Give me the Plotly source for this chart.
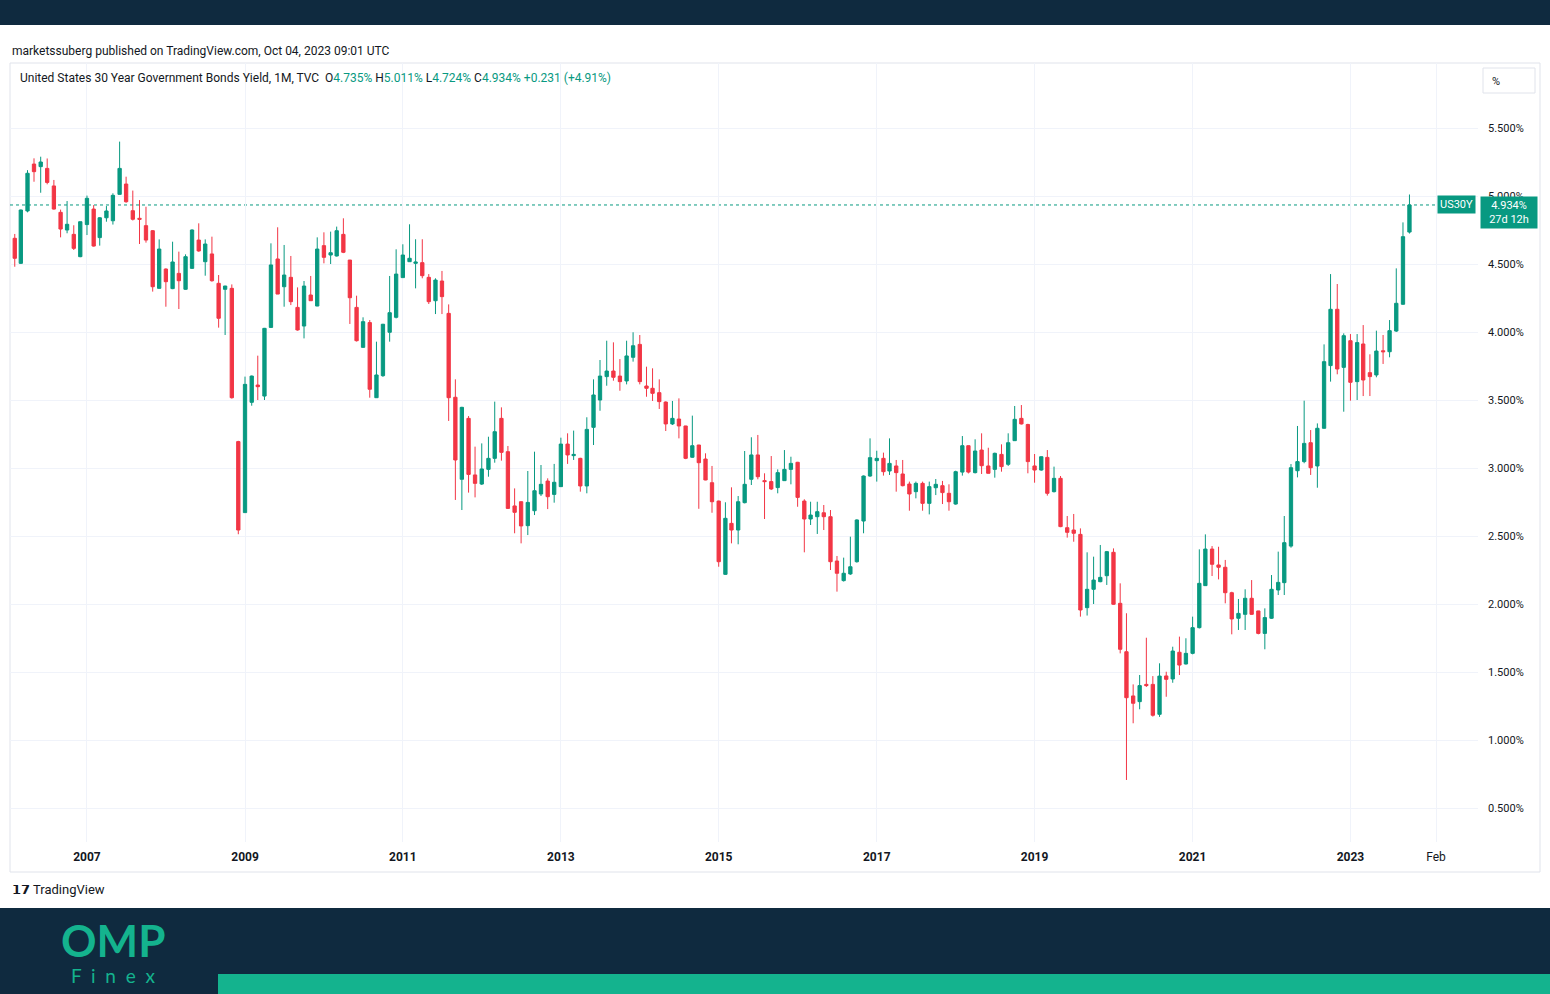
import plotly.graph_objects as go
import pandas as pd

# ---------------- data (monthly, Feb 2006 .. Oct 2023) ----------------
start_month = "2006-02-01"
open_ = [
    4.689, 4.505, 4.890, 5.235, 5.216, 5.203, 5.074, 4.880, 4.750, 4.718, 4.554,
    4.790, 4.904, 4.694, 4.840, 4.818, 5.012, 5.088, 4.892, 4.836, 4.782, 4.745, 4.321,
    4.463, 4.319, 4.431, 4.314, 4.468, 4.676, 4.517, 4.574, 4.358, 4.314, 4.321, 3.194,
    2.672, 3.483, 3.610, 3.529, 4.034, 4.537, 4.333, 4.402, 4.181, 4.044, 4.272, 4.191,
    4.635, 4.566, 4.559, 4.718, 4.529, 4.181, 3.887, 4.069, 3.517, 3.679, 3.998, 4.108,
    4.400, 4.517, 4.505, 4.510, 4.402, 4.230, 4.375, 4.137, 3.520, 2.917, 3.365, 2.949,
    2.882, 2.990, 3.071, 3.365, 3.120, 2.721, 2.752, 2.576, 2.686, 2.809, 2.904, 2.806,
    2.863, 3.176, 3.091, 3.071, 2.868, 3.299, 3.500, 3.672, 3.713, 3.676, 3.640, 3.814,
    3.909, 3.603, 3.586, 3.554, 3.485, 3.324, 3.360, 3.309, 3.079, 3.169, 3.066, 2.892,
    2.757, 2.218, 2.593, 2.544, 2.745, 2.917, 3.096, 2.907, 2.900, 2.856, 2.907, 2.990,
    3.042, 2.757, 2.625, 2.642, 2.671, 2.642, 2.316, 2.172, 2.221, 2.311, 2.610, 2.941,
    3.054, 3.071, 2.978, 3.015, 2.956, 2.882, 2.826, 2.887, 2.740, 2.855, 2.870, 2.814,
    2.735, 2.970, 3.164, 2.966, 3.132, 3.015, 2.990, 3.100, 3.027, 3.201, 3.365, 3.320,
    3.015, 2.985, 3.078, 2.826, 2.924, 2.561, 2.544, 2.512, 1.973, 2.108, 2.164, 2.208,
    2.380, 2.005, 1.649, 1.324, 1.282, 1.409, 1.409, 1.189, 1.471, 1.449, 1.645, 1.559,
    1.637, 1.826, 2.135, 2.404, 2.287, 2.270, 2.083, 1.895, 1.924, 2.042, 1.949, 1.784,
    1.895, 2.103, 2.157, 2.426, 2.980, 3.047, 3.186, 3.015, 3.292, 3.753, 4.167, 3.740,
    3.936, 3.635, 3.912, 3.701, 3.684, 3.862, 3.855, 4.007, 4.204, 4.735,
]
high = [
    4.721, 4.900, 5.190, 5.277, 5.289, 5.276, 5.118, 4.900, 4.963, 4.785, 4.811,
    5.003, 4.933, 4.845, 4.926, 5.020, 5.400, 5.142, 5.040, 4.970, 4.921, 4.750, 4.681,
    4.468, 4.664, 4.591, 4.571, 4.755, 4.799, 4.681, 4.701, 4.419, 4.340, 4.350, 3.200,
    3.672, 3.680, 3.826, 4.030, 4.652, 4.770, 4.640, 4.559, 4.328, 4.375, 4.412, 4.696,
    4.733, 4.738, 4.775, 4.836, 4.530, 4.267, 4.108, 4.088, 3.929, 4.060, 4.412, 4.608,
    4.645, 4.792, 4.682, 4.682, 4.426, 4.395, 4.449, 4.203, 3.652, 3.450, 3.382, 3.157,
    3.181, 3.230, 3.488, 3.446, 3.162, 2.850, 2.755, 2.978, 3.120, 3.022, 2.924, 3.030,
    3.223, 3.255, 3.275, 3.075, 3.373, 3.652, 3.794, 3.936, 3.924, 3.801, 3.936, 3.998,
    3.978, 3.745, 3.733, 3.652, 3.490, 3.493, 3.512, 3.310, 3.385, 3.170, 3.108, 3.015,
    2.760, 2.748, 2.858, 2.794, 3.125, 3.226, 3.243, 2.961, 3.088, 2.990, 3.132, 3.083,
    3.045, 2.770, 2.752, 2.752, 2.728, 2.691, 2.353, 2.341, 2.495, 2.623, 2.945, 3.218,
    3.127, 3.113, 3.218, 3.059, 3.059, 2.900, 2.900, 2.900, 2.900, 2.919, 2.905, 2.880,
    2.980, 3.235, 3.165, 3.211, 3.255, 3.149, 3.113, 3.174, 3.255, 3.456, 3.463, 3.325,
    3.103, 3.085, 3.132, 3.010, 2.941, 2.647, 2.662, 2.556, 2.380, 2.348, 2.434, 2.390,
    2.409, 2.152, 1.932, 1.409, 1.478, 1.752, 1.470, 1.564, 1.502, 1.686, 1.760, 1.748,
    1.907, 2.402, 2.512, 2.426, 2.421, 2.324, 2.090, 2.037, 2.108, 2.176, 1.950, 1.968,
    2.213, 2.385, 2.647, 3.029, 3.309, 3.495, 3.279, 3.328, 3.909, 4.426, 4.353, 3.990,
    3.985, 3.985, 4.051, 3.836, 4.010, 3.978, 4.088, 4.468, 4.806, 5.011,
]
low = [
    4.480, 4.500, 4.880, 5.105, 5.024, 5.086, 4.900, 4.696, 4.726, 4.603, 4.550,
    4.713, 4.628, 4.635, 4.811, 4.790, 5.010, 4.950, 4.820, 4.647, 4.657, 4.297, 4.320,
    4.186, 4.315, 4.169, 4.310, 4.465, 4.590, 4.414, 4.370, 4.032, 3.978, 3.510, 2.513,
    2.670, 3.458, 3.500, 3.500, 4.030, 4.280, 4.186, 4.198, 4.010, 3.953, 4.228, 4.190,
    4.505, 4.500, 4.555, 4.580, 4.059, 3.930, 3.885, 3.517, 3.515, 3.670, 3.929, 4.100,
    4.400, 4.515, 4.321, 4.395, 4.206, 4.132, 4.132, 3.346, 2.765, 2.691, 2.819, 2.784,
    2.875, 2.936, 3.039, 3.054, 2.700, 2.520, 2.446, 2.507, 2.654, 2.794, 2.698, 2.745,
    2.860, 3.030, 3.059, 2.826, 2.814, 3.169, 3.421, 3.605, 3.642, 3.568, 3.615, 3.782,
    3.615, 3.524, 3.493, 3.434, 3.272, 3.316, 3.218, 3.065, 3.075, 2.700, 2.910, 2.671,
    2.274, 2.215, 2.446, 2.439, 2.740, 2.875, 2.917, 2.625, 2.838, 2.814, 2.905, 2.880,
    2.715, 2.380, 2.581, 2.515, 2.544, 2.250, 2.091, 2.165, 2.214, 2.304, 2.520, 2.935,
    2.900, 2.944, 2.949, 2.826, 2.865, 2.686, 2.777, 2.686, 2.659, 2.801, 2.735, 2.686,
    2.730, 2.944, 2.960, 2.960, 2.956, 2.960, 2.929, 2.973, 3.015, 3.200, 3.320, 2.961,
    2.892, 2.980, 2.797, 2.820, 2.565, 2.488, 2.458, 1.907, 1.915, 2.000, 2.160, 2.140,
    1.995, 1.637, 0.706, 1.123, 1.226, 1.390, 1.172, 1.170, 1.318, 1.421, 1.478, 1.555,
    1.630, 1.820, 2.135, 2.206, 2.181, 2.005, 1.777, 1.809, 1.809, 1.920, 1.777, 1.667,
    1.890, 2.066, 2.066, 2.414, 2.931, 3.035, 2.949, 2.855, 3.290, 3.635, 3.689, 3.414,
    3.495, 3.500, 3.529, 3.529, 3.667, 3.765, 3.814, 4.000, 4.200, 4.724,
]
close = [
    4.542, 4.897, 5.167, 5.179, 5.250, 5.100, 4.904, 4.757, 4.792, 4.615, 4.811,
    4.983, 4.632, 4.840, 4.890, 5.005, 5.203, 4.958, 4.829, 4.829, 4.676, 4.333, 4.610,
    4.370, 4.515, 4.377, 4.554, 4.750, 4.596, 4.647, 4.377, 4.101, 4.338, 3.517, 2.544,
    3.615, 3.676, 3.598, 4.027, 4.493, 4.279, 4.419, 4.223, 4.015, 4.338, 4.230, 4.610,
    4.549, 4.583, 4.745, 4.586, 4.252, 3.936, 4.076, 3.579, 3.684, 4.057, 4.142, 4.426,
    4.566, 4.542, 4.515, 4.414, 4.223, 4.382, 4.260, 3.517, 3.059, 3.446, 2.953, 2.887,
    2.993, 3.071, 3.267, 3.115, 2.703, 2.674, 2.574, 2.747, 2.833, 2.880, 2.789, 2.895,
    3.176, 3.096, 3.100, 2.868, 3.284, 3.537, 3.676, 3.713, 3.667, 3.635, 3.824, 3.899,
    3.635, 3.586, 3.549, 3.488, 3.324, 3.365, 3.309, 3.071, 3.164, 3.039, 2.912, 2.752,
    2.311, 2.630, 2.544, 2.752, 2.880, 3.096, 2.936, 2.900, 2.846, 2.966, 2.990, 3.034,
    2.784, 2.625, 2.654, 2.679, 2.642, 2.311, 2.226, 2.226, 2.274, 2.618, 2.941, 3.076,
    3.071, 2.973, 3.034, 2.966, 2.870, 2.809, 2.887, 2.740, 2.863, 2.880, 2.819, 2.752,
    2.973, 3.164, 2.970, 3.125, 3.017, 2.961, 3.108, 3.010, 3.186, 3.358, 3.324, 3.047,
    2.985, 3.083, 2.814, 2.924, 2.569, 2.527, 2.520, 1.956, 2.108, 2.176, 2.196, 2.385,
    1.998, 1.667, 1.311, 1.270, 1.400, 1.400, 1.182, 1.470, 1.446, 1.654, 1.551, 1.637,
    1.826, 2.152, 2.404, 2.292, 2.270, 2.083, 1.890, 1.931, 2.042, 1.924, 1.784, 1.900,
    2.108, 2.159, 2.451, 3.002, 3.047, 3.181, 3.002, 3.292, 3.782, 4.167, 3.728, 3.973,
    3.630, 3.922, 3.647, 3.672, 3.860, 3.855, 4.010, 4.211, 4.701, 4.934,
]
months = pd.date_range(start_month, periods=len(close), freq="MS")

x_tick_dates = ["2007-01-01", "2009-01-01", "2011-01-01", "2013-01-01", "2015-01-01",
                "2017-01-01", "2019-01-01", "2021-01-01", "2023-01-01", "2024-02-01"]
x_tick_text = ["2007", "2009", "2011", "2013", "2015", "2017", "2019", "2021", "2023", "Feb"]
y_tick_vals = [0.5, 1.0, 1.5, 2.0, 2.5, 3.0, 3.5, 4.0, 4.5, 5.0, 5.5]

# ---------------- style ----------------
W, H = 1550, 994
GREEN = "#089981"
RED = "#F23645"
NAVY = "#0f2a3f"
TEAL = "#14b38e"
TXT = "#131722"
GRID = "#f0f3fa"
FONT = "Roboto, Liberation Sans, sans-serif"

def px(xp):
    return xp / W

def py(yp):
    return 1 - yp / H

fig = go.Figure()
fig.add_trace(go.Candlestick(
    x=months, open=open_, high=high, low=low, close=close,
    increasing=dict(line=dict(color=GREEN, width=1), fillcolor=GREEN),
    decreasing=dict(line=dict(color=RED, width=1), fillcolor=RED),
    whiskerwidth=0, hoverinfo="skip", showlegend=False,
))

plot_left, plot_right, plot_top, plot_bottom = 10, 1478, 63, 842

fig.update_layout(
    width=W, height=H,
    margin=dict(l=0, r=0, t=0, b=0),
    paper_bgcolor="white", plot_bgcolor="white",
    font=dict(family=FONT, color=TXT, size=12),
    showlegend=False,
    boxgap=0.22,
    xaxis=dict(
        type="date",
        domain=[px(plot_left), px(plot_right)],
        range=["2006-01-10", "2024-08-13"],
        rangeslider=dict(visible=False),
        tickvals=x_tick_dates,
        ticktext=["<b>%s</b>" % t if t != "Feb" else t for t in x_tick_text],
        showgrid=True, gridcolor=GRID, gridwidth=1,
        zeroline=False, showline=False, ticks="",
        tickfont=dict(size=12, color=TXT, family=FONT),
        ticklabelstandoff=6,
        fixedrange=True,
    ),
    yaxis=dict(
        domain=[py(plot_bottom), py(plot_top)],
        range=[0.25, 5.978],
        side="right",
        tickvals=y_tick_vals,
        ticktext=["%.3f%%" % v for v in y_tick_vals],
        showgrid=True, gridcolor=GRID, gridwidth=1,
        zeroline=False, showline=False, ticks="",
        tickfont=dict(size=11, color=TXT, family=FONT),
        ticklabelstandoff=9,
        fixedrange=True,
    ),
)

shapes = [
    # top navy bar
    dict(type="rect", xref="paper", yref="paper", x0=0, x1=1, y0=py(25), y1=1,
         fillcolor=NAVY, line=dict(width=0), layer="below"),
    # chart frame
    dict(type="rect", xref="paper", yref="paper", x0=px(10), x1=px(1540), y0=py(872), y1=py(63),
         fillcolor="rgba(0,0,0,0)", line=dict(color="#e0e3eb", width=1), layer="below"),
    # bottom navy band
    dict(type="rect", xref="paper", yref="paper", x0=0, x1=1, y0=0, y1=py(908),
         fillcolor=NAVY, line=dict(width=0), layer="above"),
    # teal bar
    dict(type="rect", xref="paper", yref="paper", x0=px(218), x1=1, y0=0, y1=py(974),
         fillcolor=TEAL, line=dict(width=0), layer="above"),
    # last price dotted line
    dict(type="line", xref="paper", yref="y", x0=px(10), x1=px(1436), y0=close[-1], y1=close[-1],
         line=dict(color=GREEN, width=1, dash="dot"), layer="below"),
    # "%" button
    dict(type="rect", xref="paper", yref="paper", x0=px(1483), x1=px(1535), y0=py(93), y1=py(68),
         fillcolor="white", line=dict(color="#e0e3eb", width=1)),
]
fig.update_layout(shapes=shapes)

last = close[-1]
ann = [
    dict(text="marketssuberg published on TradingView.com, Oct 04, 2023 09:01 UTC",
         x=px(10), y=py(51), xanchor="left", yanchor="middle", font=dict(size=12, color=TXT)),
    dict(text=("United States 30 Year Government Bonds Yield, 1M, TVC  "
               "O<span style='color:%s'>%.3f%%</span> H<span style='color:%s'>%.3f%%</span> "
               "L<span style='color:%s'>%.3f%%</span> C<span style='color:%s'>%.3f%% +0.231 (+4.91%%)</span>")
         % (GREEN, open_[-1], GREEN, high[-1], GREEN, low[-1], GREEN, last),
         x=px(18), y=py(78), xanchor="left", yanchor="middle", font=dict(size=12, color=TXT)),
    dict(text="%", x=px(1496), y=py(81), xanchor="center", yanchor="middle",
         font=dict(size=11, color=TXT)),
    dict(text="US30Y", x=px(1456), xref="paper", y=last, yref="y", xanchor="center", yanchor="middle",
         font=dict(size=11, color="white"), bgcolor=GREEN, borderpad=2),
    dict(text="%.3f%%<br>27d 12h" % last, x=px(1480), y=py(212), xanchor="left", yanchor="middle",
         font=dict(size=11, color="white"), bgcolor=GREEN, borderpad=2, width=52, align="center"),
    dict(text="<b>𝟭𝟳</b> TradingView", x=px(10), y=py(889), xanchor="left", yanchor="middle",
         font=dict(size=13, color=TXT)),
    dict(text="<b>OMP</b>", x=px(113), y=py(940), xanchor="center", yanchor="middle",
         font=dict(size=44, color=TEAL, family="Lato, Roboto, sans-serif")),
    dict(text="F  i  n  e  x", x=px(113), y=py(975), xanchor="center", yanchor="middle",
         font=dict(size=19, color=TEAL, family="Lato, Roboto, sans-serif")),
]
for a in ann:
    a.setdefault("xref", "paper")
    a.setdefault("yref", "paper")
    a["showarrow"] = False
fig.update_layout(annotations=ann)

fig.write_html("out.html", config={"displayModeBar": False},
               post_script="document.body.style.margin='0';document.body.style.padding='0';")
